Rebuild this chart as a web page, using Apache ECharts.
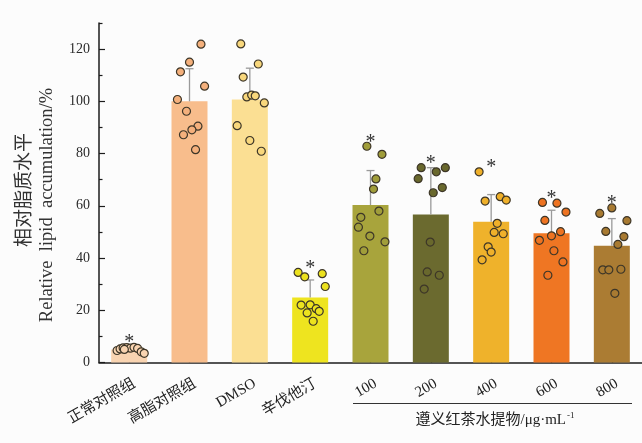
<!DOCTYPE html>
<html>
<head>
<meta charset="utf-8">
<script src="https://cdn.jsdelivr.net/npm/echarts@6/dist/echarts.min.js"></script>
<style>
  html, body { margin: 0; padding: 0; background: #fcfcfc; }
  #chart { width: 642px; height: 443px; }
</style>
</head>
<body>
<div id="chart"></div>
<script>
// Groups along the x axis
const groups = ['正常对照组', '高脂对照组', 'DMSO', '辛伐他汀', '100', '200', '400', '600', '800'];
// Group means (%) and standard deviations
const means = [5.0, 100.0, 100.7, 24.9, 60.3, 56.7, 53.9, 49.5, 44.7];
const sds = [1.0, 12.5, 12.0, 6.7, 13.2, 17.9, 10.4, 8.8, 10.4];
// Groups marked with * (significant vs. the high-fat control)
const significant = [true, false, false, true, true, true, true, true, true];
// Individual replicate values per group
const replicates = [
  [4.6, 5.2, 5.6, 5.7, 5.5, 5.8, 5.4, 4.1, 3.5, 5.0],
  [121.9, 115.0, 111.3, 105.8, 100.7, 96.2, 90.5, 89.1, 87.2, 81.5],
  [122.0, 114.3, 109.3, 101.7, 102.4, 102.1, 99.4, 90.7, 85.0, 80.9],
  [34.5, 32.8, 34.0, 29.1, 22.0, 22.1, 20.6, 19.0, 19.6, 15.8],
  [82.8, 79.7, 70.3, 66.4, 58.0, 55.6, 51.8, 48.4, 46.2, 42.8],
  [74.6, 73.0, 74.6, 70.4, 67.0, 65.0, 46.1, 34.7, 33.4, 28.1],
  [73.0, 61.8, 63.5, 62.2, 53.3, 49.8, 49.3, 44.3, 42.3, 39.3],
  [61.3, 61.0, 57.6, 54.4, 50.1, 48.5, 46.8, 42.8, 38.5, 33.4],
  [59.2, 57.1, 54.3, 50.2, 48.2, 45.2, 35.5, 35.5, 35.7, 26.5]
];
// Horizontal spread of the replicate dots, in category widths
const jitter = [
  [-0.2, -0.15, -0.1, -0.04, 0.02, 0.08, 0.14, 0.2, 0.25, -0.08],
  [0.19, 0.0, -0.15, 0.25, -0.2, -0.05, 0.14, 0.04, -0.1, 0.1],
  [-0.15, 0.14, -0.11, -0.05, 0.03, 0.09, 0.24, -0.21, 0.0, 0.19],
  [-0.2, -0.09, 0.2, 0.25, -0.15, 0.0, 0.1, -0.05, 0.15, 0.05],
  [-0.06, 0.19, 0.09, 0.05, 0.14, -0.16, -0.2, -0.01, 0.24, -0.11],
  [-0.16, 0.09, 0.24, -0.21, 0.19, 0.04, -0.01, -0.06, 0.14, -0.11],
  [-0.2, -0.1, 0.15, 0.25, 0.1, 0.05, 0.2, -0.05, 0.0, -0.15],
  [-0.15, 0.09, 0.24, -0.11, 0.15, 0.0, -0.2, 0.04, 0.19, -0.06],
  [0.0, -0.2, 0.25, -0.1, 0.2, 0.1, -0.15, -0.05, 0.15, 0.05]
];
// Y axis ticks
const majorTicks = [0, 20, 40, 60, 80, 100, 120];
const minorTicks = [10, 30, 50, 70, 90, 110, 130];

// Colours
const barColors = ['#f9d4b1', '#f8bd8c', '#fbdf93', '#eee41f', '#a8a43c', '#6b6a2f', '#efb22b', '#ef7623', '#ab7c33'];
const dotColors = ['#f9d4b1', '#f4b07c', '#f8d77c', '#ece21e', '#a09d3a', '#69682d', '#efb02a', '#ee7321', '#a87a31'];

const serif = '"Liberation Serif", "Times New Roman", "Noto Sans CJK SC", serif';
const cjk = '"Noto Sans CJK SC", sans-serif';
const axisColor = '#1c1c1c';

const barData = means.map((m, i) => ({ value: m, itemStyle: { color: barColors[i] } }));

const dotData = [];
replicates.forEach((vals, i) => {
  vals.forEach((v, k) => {
    dotData.push({ value: [i + jitter[i][k], v], itemStyle: { color: dotColors[i] } });
  });
});

const errData = means.map((m, i) => [i, m, sds[i], Math.max(m + sds[i], ...replicates[i]), significant[i] ? 1 : 0]);

const chart = echarts.init(document.getElementById('chart'), null, { renderer: 'canvas' });

chart.setOption({
  animation: false,
  backgroundColor: '#fcfcfc',
  grid: { left: 99, top: 23, width: 545, height: 339.5 },
  xAxis: [
    {
      type: 'category',
      data: groups,
      position: 'bottom',
      axisLine: { onZero: false, lineStyle: { color: axisColor, width: 1.5 } },
      axisTick: { show: true, inside: true, alignWithLabel: true, length: 6, lineStyle: { color: axisColor, width: 1.2 } },
      axisLabel: { rotate: 30, fontFamily: serif, fontSize: 15, color: '#222', margin: 23, interval: 0, padding: [0, -6, 0, 0] }
    },
    { type: 'value', min: -0.5, max: 8.5, show: false }
  ],
  yAxis: [
    {
      type: 'value', min: 0, max: 130, interval: 10,
      axisLine: { show: true, onZero: false, lineStyle: { color: axisColor, width: 1.5 } },
      axisTick: { show: true, inside: true, length: 6, customValues: majorTicks, lineStyle: { color: axisColor, width: 1.2 } },
      axisLabel: { customValues: majorTicks, fontFamily: serif, fontSize: 14, color: '#2b2b2b', margin: 9 },
      splitLine: { show: false }
    },
    {
      type: 'value', min: 0, max: 130, interval: 10, position: 'left',
      axisLine: { show: false, onZero: false },
      axisTick: { show: true, inside: true, length: 3.5, customValues: minorTicks, lineStyle: { color: axisColor, width: 1.2 } },
      axisLabel: { show: false },
      splitLine: { show: false }
    }
  ],
  series: [
    {
      type: 'bar',
      data: barData,
      barWidth: 36,
      xAxisIndex: 0, yAxisIndex: 0,
      z: 1
    },
    {
      type: 'custom',
      xAxisIndex: 0, yAxisIndex: 0,
      data: errData,
      z: 2,
      renderItem: function (params, api) {
        const idx = api.value(0);
        const base = api.coord([idx, api.value(1)]);
        const top = api.coord([idx, api.value(1) + api.value(2)]);
        const high = api.coord([idx, api.value(3)]);
        const children = [
          { type: 'line', shape: { x1: base[0], y1: base[1], x2: top[0], y2: top[1] }, style: { stroke: '#9a9a9a', lineWidth: 1.3 } },
          { type: 'line', shape: { x1: top[0] - 4, y1: top[1], x2: top[0] + 4, y2: top[1] }, style: { stroke: '#9a9a9a', lineWidth: 1.3 } }
        ];
        if (api.value(4)) {
          children.push({
            type: 'text',
            x: base[0], y: high[1] - 4,
            style: { text: '*', fontFamily: serif, fontSize: 20, fill: '#333', align: 'center', verticalAlign: 'middle' },
            z2: 10
          });
        }
        return { type: 'group', children: children };
      }
    },
    {
      type: 'scatter',
      xAxisIndex: 1, yAxisIndex: 0,
      data: dotData,
      symbol: 'circle',
      symbolSize: 8,
      itemStyle: { borderColor: '#3d3628', borderWidth: 1.2, opacity: 1 },
      z: 3
    }
  ],
  graphic: [
    {
      type: 'text', x: 23, y: 190, rotation: Math.PI / 2,
      style: { text: '相对脂质水平', fontFamily: cjk, fontSize: 19, fill: '#333', align: 'center', verticalAlign: 'middle' }
    },
    {
      type: 'text', x: 47, y: 205, rotation: Math.PI / 2,
      style: { text: 'Relative  lipid  accumulation/%', fontFamily: serif, fontSize: 18.5, fill: '#333', align: 'center', verticalAlign: 'middle' }
    },
    {
      type: 'line', shape: { x1: 353, y1: 403.5, x2: 632, y2: 403.5 },
      style: { stroke: '#333', lineWidth: 1 }
    },
    {
      type: 'text', x: 495, y: 420,
      style: {
        text: '{a|遵义红茶水提物/μg·mL}{s|-1}',
        align: 'center', verticalAlign: 'middle',
        rich: {
          a: { fontFamily: serif, fontSize: 15, fill: '#222' },
          s: { fontFamily: serif, fontSize: 9, fill: '#222', verticalAlign: 'top', padding: [0, 0, 8, 1] }
        }
      }
    }
  ]
});
</script>
</body>
</html>
